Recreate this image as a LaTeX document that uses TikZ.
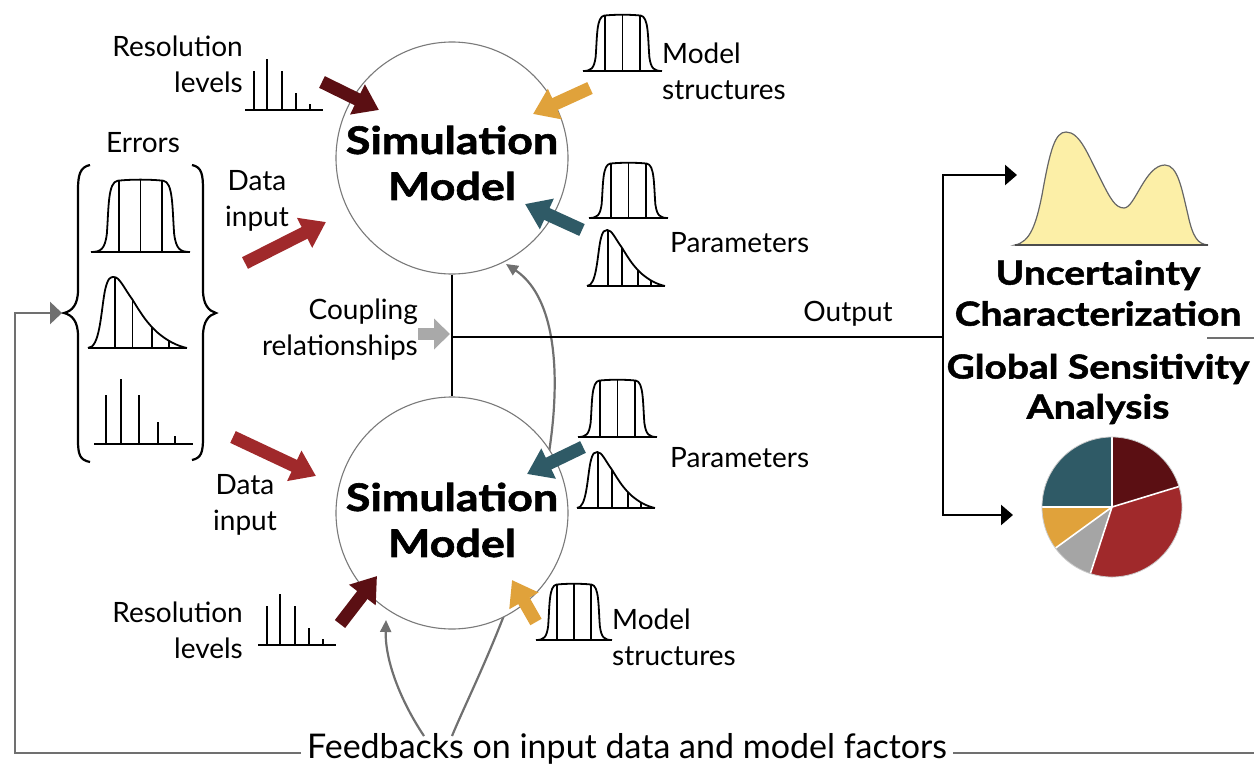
\documentclass[tikz,border=0pt]{standalone}
\usepackage{fontspec}
\setmainfont{Lato}
\newfontfamily\heavy{Lato}[FakeStretch=1.18, BoldFeatures={FakeBold=1.6}]
\usetikzlibrary{arrows.meta}

\definecolor{cMaroon}{HTML}{5B0F13}
\definecolor{cRed}{HTML}{A0292B}
\definecolor{cTeal}{HTML}{2F5A66}
\definecolor{cOrange}{HTML}{E0A23B}
\definecolor{cCouple}{HTML}{A9A9A9}
\definecolor{cFeed}{HTML}{707070}
\definecolor{cYellow}{HTML}{FCEFA7}
\definecolor{cPieGray}{HTML}{A5A5A5}
\definecolor{cRing}{HTML}{7A7A7A}

% outlines of the small distribution icons (unit square, v upwards)
\def\flatcurve{(0,0) .. controls (0.1,0) and (0.14,0.04) .. (0.16,0.25) .. controls (0.18,0.62) and (0.17,0.97) .. (0.27,0.99) .. controls (0.4,1.01) and (0.6,1.01) .. (0.73,0.99) .. controls (0.83,0.97) and (0.82,0.62) .. (0.84,0.25) .. controls (0.86,0.04) and (0.9,0) .. (1,0)}
\def\skewcurve{(0,0) .. controls (0.12,0) and (0.13,0.5) .. (0.17,0.8) .. controls (0.2,1) and (0.23,1) .. (0.26,1) .. controls (0.32,1) and (0.36,0.85) .. (0.45,0.68) .. controls (0.55,0.45) and (0.6,0.35) .. (0.7,0.22) .. controls (0.8,0.1) and (0.9,0.03) .. (1,0)}

% #1 left x, #2 base y, #3 width, #4 height
\newcommand\flatpdf[4]{%
  \begin{scope}[shift={(#1,#2)},x=#3pt,y=#4pt]
    \begin{scope}
      \clip \flatcurve -- cycle;
      \draw[icon] (0.28,0) -- (0.28,1.2) (0.5,0) -- (0.5,1.2) (0.72,0) -- (0.72,1.2);
    \end{scope}
    \draw[icon] \flatcurve;
    \draw[icon] (0,0) -- (1,0);
  \end{scope}}
\newcommand\skewpdf[4]{%
  \begin{scope}[shift={(#1,#2)},x=#3pt,y=#4pt]
    \begin{scope}
      \clip \skewcurve -- cycle;
      \draw[icon] (0.27,0) -- (0.27,1.2) (0.45,0) -- (0.45,1.2) (0.65,0) -- (0.65,1.2) (0.82,0) -- (0.82,1.2);
    \end{scope}
    \draw[icon] \skewcurve;
    \draw[icon] (0,0) -- (1,0);
  \end{scope}}

\begin{document}
\begin{tikzpicture}[x=1pt,y=-1pt,
  lbl/.style={font=\fontsize{28}{36}\selectfont, inner sep=0pt, align=center},
  bigtxt/.style={font=\heavy\bfseries\fontsize{38}{46}\selectfont, inner sep=0pt, align=center},
  icon/.style={line width=1.8pt, black, line cap=butt},
  blk/.style={line width=13pt, -{Triangle[width=32pt,length=24pt]}},
  conn/.style={line width=2.5pt, black},
  conntip/.style={conn, -{Triangle[width=20pt,length=12pt]}},
  feed/.style={draw=cFeed, line width=2.8pt},
  feedtip/.style={draw=cFeed, line width=2.2pt, -{Triangle[width=11pt,length=12pt]}},
  model/.style={circle, draw=cRing, line width=1.1pt, fill=white, minimum size=232pt, inner sep=0pt}]
\useasboundingbox (0,0) rectangle (1254,774);

% ---------- feedback curves (behind the model circles)
\coordinate (fbA) at (424,736);
\coordinate (fbB) at (452,736);
\coordinate (fbAtip) at (386,620);
\coordinate (fbBtip) at (506,264);
\draw[feedtip] (fbA) .. controls (400,700) and (385,660) .. (fbAtip);
\draw[feedtip] (fbB) .. controls (475,680) and (540,560) .. (553,420) .. controls (560,340) and (545,290) .. (fbBtip);

% ---------- coupling connector
\coordinate (jn) at (452,337);
\coordinate (fork) at (943,337);
\coordinate (uaTip) at (1017,175);
\coordinate (gsaTip) at (1013,515);

% ---------- simulation models
\node[model] (simA) at (452,158) {};
\node[model] (simB) at (452,513) {};
\node[bigtxt] (simAtxt) at (452,163) {Simulation\\Model};
\node[bigtxt] (simBtxt) at (452,520) {Simulation\\Model};

\draw[conn] (simA.south) -- (simB.north);
\draw[conn] (jn) -- (fork);
\draw[conntip] (fork) |- (uaTip);
\draw[conntip] (fork) |- (gsaTip);
\node[lbl] (outlbl) at (848,314) {Output};

% coupling relationships
\node[lbl, align=right, anchor=east] (couple) at (418,330) {Coupling\\relationships};
\coordinate (coupleTail) at (418,334);
\coordinate (coupleTip) at (450,334);
\draw[cCouple, line width=12pt, -{Triangle[width=30pt,length=16pt]}] (coupleTail) -- (coupleTip);

% ---------- errors bracket
\node[lbl] (errors) at (143,143) {Errors};
\draw[line width=2.2pt] (90,165) .. controls (80,167) and (78,175) .. (78,190) -- (78,290)
  .. controls (78,305) and (72,311) .. (64,313) .. controls (72,315) and (78,321) .. (78,336)
  -- (78,440) .. controls (78,455) and (80,460) .. (90,462);
\draw[line width=2.2pt] (192,165) .. controls (202,167) and (203,175) .. (203,190) -- (203,290)
  .. controls (203,305) and (209,311) .. (216,313) .. controls (209,315) and (203,321) .. (203,336)
  -- (203,438) .. controls (203,453) and (201,458) .. (192,460);
\flatpdf{91}{252}{99}{72}
\skewpdf{88}{348}{99}{71}
\draw[icon] (94,444) -- (193,444) (106,444) -- (106,395) (121,444) -- (121,379)
  (139,444) -- (139,395) (158,444) -- (158,422) (175,444) -- (175,436);

% ---------- inputs of the upper model
\node[lbl, align=right, anchor=east] (resA) at (243,64) {Resolution\\levels};
\draw[icon] (245,110) -- (323,110) (254,110) -- (254,71) (267,110) -- (267,59)
  (282,110) -- (282,71) (296,110) -- (296,93) (310,110) -- (310,104);
\coordinate (resAtail) at (322,82);  \coordinate (resAtip) at (379,110);
\draw[blk, cMaroon] (resAtail) -- (resAtip);

\node[lbl] (dataA) at (257,201) {Data\\input};
\coordinate (dataAtail) at (245,263); \coordinate (dataAtip) at (326,222);
\draw[blk, cRed] (dataAtail) -- (dataAtip);

\flatpdf{583}{71}{79}{56}
\node[lbl, align=left, anchor=west] (msA) at (662,71) {Model\\structures};
\coordinate (msAtail) at (590,88); \coordinate (msAtip) at (533,114);
\draw[blk, cOrange] (msAtail) -- (msAtip);

\flatpdf{589}{218}{79}{55}
\skewpdf{587}{286}{78}{56}
\node[lbl, anchor=west] (parA) at (670,243) {Parameters};
\coordinate (parAtail) at (582,230); \coordinate (parAtip) at (525,204);
\draw[blk, cTeal] (parAtail) -- (parAtip);

% ---------- inputs of the lower model
\node[lbl] (dataB) at (245,505) {Data\\input};
\coordinate (dataBtail) at (233,437); \coordinate (dataBtip) at (316,476);
\draw[blk, cRed] (dataBtail) -- (dataBtip);

\flatpdf{578}{437}{79}{57}
\skewpdf{577}{508}{78}{56}
\node[lbl, anchor=west] (parB) at (670,458) {Parameters};
\coordinate (parBtail) at (583,447); \coordinate (parBtip) at (527,474);
\draw[blk, cTeal] (parBtail) -- (parBtip);

\node[lbl, align=right, anchor=east] (resB) at (243,630) {Resolution\\levels};
\draw[icon] (258,645) -- (336,645) (267,645) -- (267,606) (280,645) -- (280,594)
  (295,645) -- (295,606) (309,645) -- (309,628) (323,645) -- (323,639);
\coordinate (resBtail) at (340,624); \coordinate (resBtip) at (377,576);
\draw[blk, cMaroon] (resBtail) -- (resBtip);

\flatpdf{536}{640}{76}{56}
\node[lbl, align=left, anchor=west] (msB) at (612,637) {Model\\structures};
\coordinate (msBtail) at (536,622); \coordinate (msBtip) at (512,580);
\draw[blk, cOrange] (msBtail) -- (msBtip);

% ---------- feedback loop
\node[lbl, font=\fontsize{34}{40}\selectfont, inner xsep=6pt] (fb) at (627,749) {Feedbacks on input data and model factors};
\coordinate (fbCorner) at (15,753);
\coordinate (braceIn) at (62,313);
\coordinate (fbRight) at (1254,753);
\draw[feed, -{Triangle[width=22pt,length=12pt]}] (fb.west |- fbCorner) -- (fbCorner) |- (braceIn);
\draw[feed] (fb.east |- fbRight) -- (fbRight);
\coordinate (fbStubA) at (1207,338);
\coordinate (fbStubB) at (1254,338);
\draw[feed] (fbStubA) -- (fbStubB);

% ---------- uncertainty characterization
\draw[fill=cYellow, draw=gray!80!black, line width=1.2pt]
  (1015,245) .. controls (1030,242) and (1036,225) .. (1042,195)
  .. controls (1050,150) and (1055,132) .. (1066,132)
  .. controls (1080,132) and (1088,155) .. (1100,178)
  .. controls (1110,198) and (1115,208) .. (1124,208)
  .. controls (1135,208) and (1145,165) .. (1165,165)
  .. controls (1178,165) and (1182,190) .. (1188,215)
  .. controls (1193,238) and (1198,244) .. (1208,245) -- cycle;
\draw[line width=1.6pt, black!70] (1015,245) -- (1208,245);
\node[bigtxt, font=\heavy\bfseries\fontsize{33}{41}\selectfont] (uc) at (1098,293) {Uncertainty\\Characterization};

% ---------- global sensitivity analysis
\node[bigtxt, font=\heavy\bfseries\fontsize{33}{40}\selectfont] (gsa) at (1098,389) {Global Sensitivity\\Analysis};
\begin{scope}[shift={(1112,507)}, x=1pt, y=1pt]
  \fill[cTeal] (0,0) -- (90:70) arc[start angle=90, end angle=180, radius=70] -- cycle;
  \fill[cMaroon] (0,0) -- (17:70) arc[start angle=17, end angle=90, radius=70] -- cycle;
  \fill[cRed] (0,0) -- (-108:70) arc[start angle=-108, end angle=17, radius=70] -- cycle;
  \fill[cPieGray] (0,0) -- (-144:70) arc[start angle=-144, end angle=-108, radius=70] -- cycle;
  \fill[cOrange] (0,0) -- (180:70) arc[start angle=180, end angle=216, radius=70] -- cycle;
  \draw[white, line width=1.6pt] (0,0) -- (90:70) (0,0) -- (17:70) (0,0) -- (-108:70)
    (0,0) -- (-144:70) (0,0) -- (180:70);
  \draw[gray!40, line width=0.8pt] (0,0) circle[radius=70];
\end{scope}
\end{tikzpicture}
\end{document}
